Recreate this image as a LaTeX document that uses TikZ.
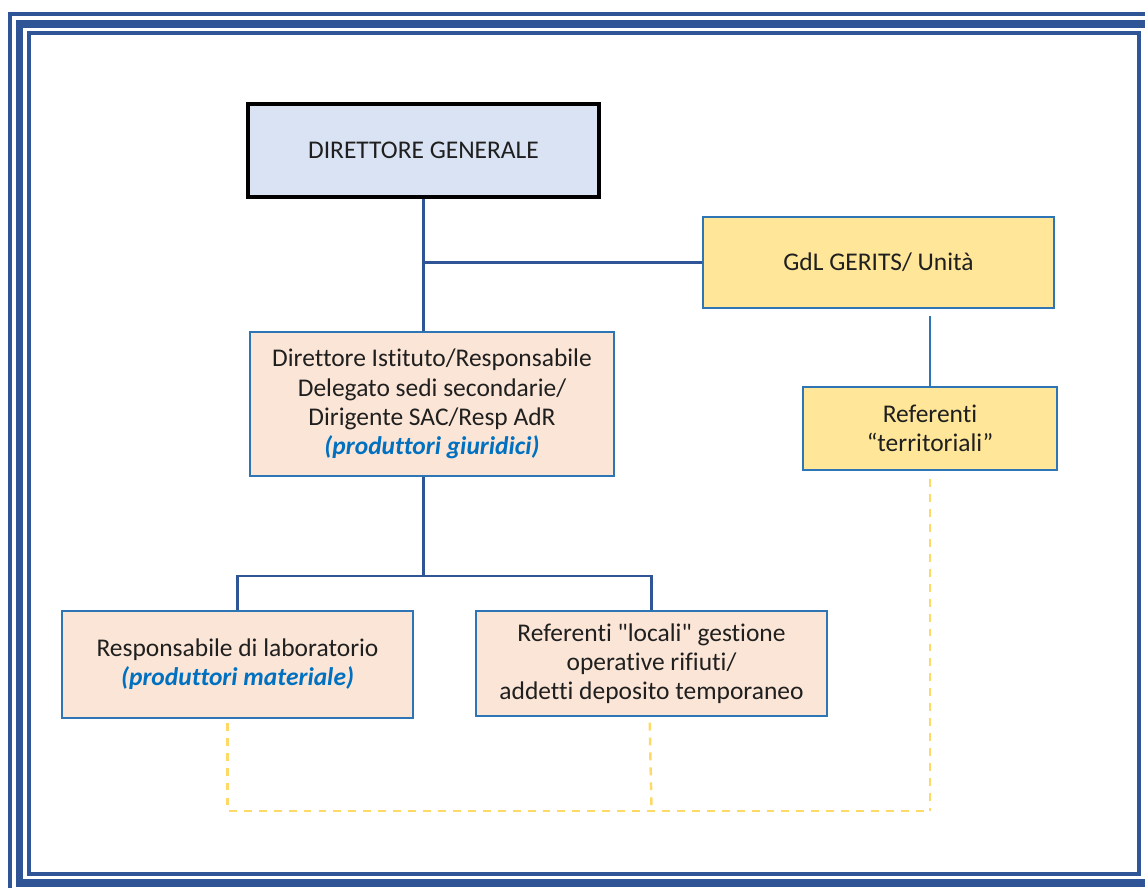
\documentclass[tikz,border=0pt]{standalone}
\usepackage{fontspec}
\setmainfont{Carlito}[Ligatures={TeX,NoCommon}]
\usetikzlibrary{positioning}
\definecolor{dgblue}{RGB}{218,227,243}
\definecolor{boxpeach}{RGB}{251,229,214}
\definecolor{boxyellow}{RGB}{255,230,153}
\definecolor{boxborder}{RGB}{46,117,182}
\definecolor{linkblue}{RGB}{47,85,151}
\definecolor{dashyellow}{RGB}{255,217,102}
\definecolor{noteblue}{RGB}{0,112,192}

\begin{document}
\begin{tikzpicture}[x=0.02cm, y=-0.02cm,
  box/.style={draw=boxborder, line width=1.5pt, align=center, inner sep=0pt,
    font=\fontsize{14.5}{16.6}\selectfont, text=black!88},
  link/.style={linkblue, line width=1.4pt},
  dashlink/.style={dashyellow, line width=1.4pt, dash pattern=on 4.5pt off 4pt}]
  \useasboundingbox (0,0) rectangle (1145,887);
  \clip (0,0) rectangle (1145,887);
  % frame
  \draw[linkblue, line width=2.3pt] (10,14) rectangle (1170,920);
  \draw[linkblue, line width=4.4pt] (19.5,24) rectangle (1170,883);
  \draw[linkblue, line width=2.3pt] (29,33) rectangle (1139,874);
  % boxes
  \node[box, draw=black, line width=1.8pt, fill=dgblue, minimum width=7.02cm, minimum height=1.86cm] %
    (dg) at (423.5,150.5) {DIRETTORE GENERALE};
  \node[box, fill=boxyellow, minimum width=7.02cm, minimum height=1.82cm] %
    (gdl) at (878.5,262.5) {GdL GERITS/ Unità};
  \node[box, fill=boxyellow, minimum width=5.08cm, minimum height=1.66cm] %
    (refterr) at (930,428.5) {Referenti\\“territoriali”};
  \node[box, fill=boxpeach, minimum width=7.28cm, minimum height=2.88cm] %
    (diristituto) at (432,404) {Direttore Istituto/Responsabile\\Delegato sedi secondarie/\\Dirigente SAC/Resp AdR\\%
    \textcolor{noteblue}{\bfseries\itshape (produttori giuridici)}};
  \node[box, fill=boxpeach, minimum width=7.02cm, minimum height=2.14cm] %
    (resplab) at (237.5,664.5) {Responsabile di laboratorio\\\textcolor{noteblue}{\bfseries\itshape (produttori materiale)}};
  \node[box, fill=boxpeach, minimum width=7.02cm, minimum height=2.10cm] %
    (reflocali) at (651.5,663.5) {Referenti \textquotedbl locali\textquotedbl{} gestione\\operative rifiuti/\\addetti deposito temporaneo};
  % solid links
  \coordinate (split) at (423.5,576);
  \coordinate (dashend) at (930,811);
  \draw[link] (dg.south) -- (dg.south |- diristituto.north);
  \draw[link] (dg.south |- gdl.west) -- (gdl.west);
  \draw[boxborder, line width=1.4pt] ([yshift=-4pt]gdl.south -| refterr.north) -- (refterr.north);
  \draw[link] (dg.south |- diristituto.south) -- (split);
  \draw[link] (resplab.north) |- (split) -| (reflocali.north);
  % dashed links
  \draw[dashlink] ([xshift=-5.7pt,yshift=-2pt]resplab.south) |- (dashend);
  \draw[dashlink] ([yshift=-4.5pt]refterr.south) -- (dashend);
  \draw[dashlink] ([xshift=-1pt,yshift=-3pt]reflocali.south) -- (reflocali.south |- dashend);
\end{tikzpicture}
\end{document}
